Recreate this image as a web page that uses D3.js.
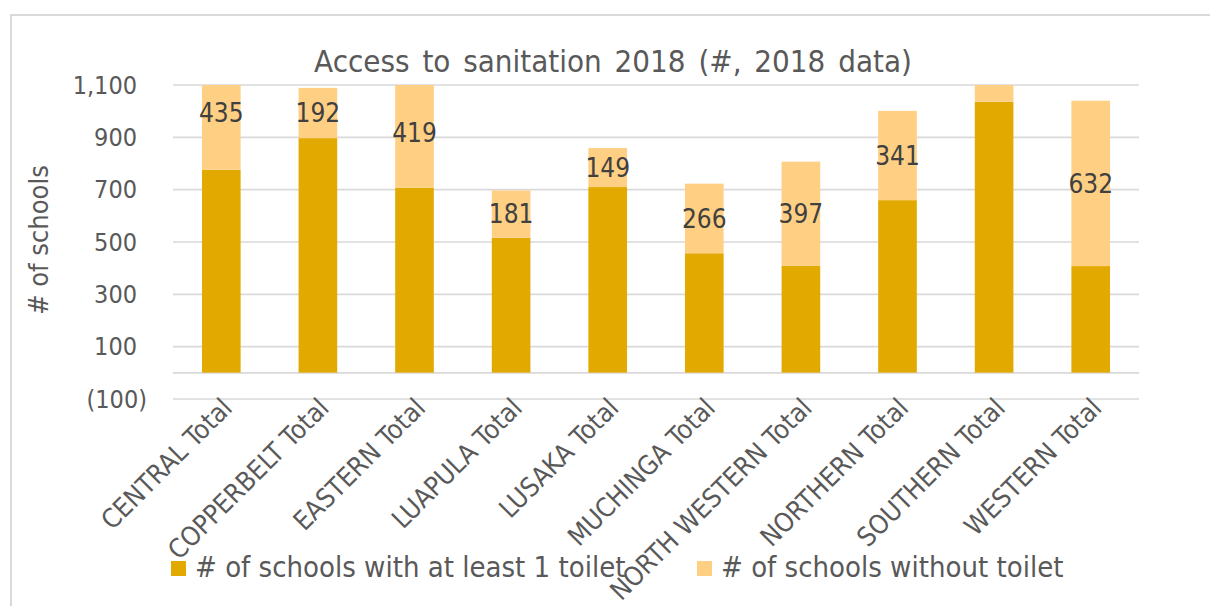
<!DOCTYPE html>
<html>
<head>
<meta charset="utf-8">
<script src="https://cdn.jsdelivr.net/npm/d3@7/dist/d3.min.js"></script>
<style>
  html, body { margin: 0; padding: 0; background: #fff; }
  svg text { font-family: "DejaVu Sans Condensed", "DejaVu Sans", sans-serif; font-stretch: condensed; }
</style>
</head>
<body>
<svg id="chart" width="1210" height="606"></svg>
<script>
// Provinces (school totals per province)
const categories = ["CENTRAL Total", "COPPERBELT Total", "EASTERN Total", "LUAPULA Total", "LUSAKA Total",
  "MUCHINGA Total", "NORTH WESTERN Total", "NORTHERN Total", "SOUTHERN Total", "WESTERN Total"];
const withToilet = [776, 897, 708, 516, 710, 457, 410, 660, 1036, 408];
const withoutToilet = [435, 192, 419, 181, 149, 266, 397, 341, 140, 632];
const seriesNames = ["# of schools with at least 1 toilet", "# of schools without toilet"];
const yTicks = [-100, 100, 300, 500, 700, 900, 1100];
const chartTitle = "Access to sanitation 2018 (#, 2018 data)";
const yTitle = "# of schools";

const colors = ["#E2AA00", "#FFD084"];
const gridColor = "#d9d9d9";
const textColor = "#595959";

const svg = d3.select("#chart");
const W = 1210, H = 606;
const plot = { left: 173, right: 1139, top: 85, bottom: 399 };

// Chart frame
svg.append("path")
  .attr("d", `M11,${H} L11,15 L${W},15`)
  .attr("fill", "none").attr("stroke", gridColor).attr("stroke-width", 2);

const x = d3.scaleBand().domain(categories).range([plot.left, plot.right]).paddingInner(0.6).paddingOuter(0.3);
const y = d3.scaleLinear().domain([-100, 1100]).range([plot.bottom, plot.top]);

// Gridlines and zero axis line
svg.append("g").selectAll("line")
  .data(yTicks.concat([0]))
  .join("line")
  .attr("x1", plot.left).attr("x2", plot.right)
  .attr("y1", d => y(d)).attr("y2", d => y(d))
  .attr("stroke", gridColor).attr("stroke-width", 1.6);

// Y axis labels (accounting format: negatives in parentheses)
const fmt = d3.format(",");
const yAxis = d3.axisLeft(y).tickValues(yTicks).tickSize(0).tickPadding(0)
  .tickFormat(d => d < 0 ? `(${fmt(-d)})` : fmt(d));
const gy = svg.append("g").attr("transform", `translate(147,0)`).call(yAxis);
gy.select(".domain").remove();
gy.selectAll("text")
  .attr("fill", textColor).attr("font-size", 25)
  .attr("dx", d => d < 0 ? 0 : -10)
  .style("font-family", null);

// Stacked bars
const stack = categories.map((c, i) => {
  const a = withToilet[i], b = withoutToilet[i];
  return [
    { cat: c, s: 0, y0: 0, y1: a, v: a },
    { cat: c, s: 1, y0: a, y1: a + b, v: b }
  ];
});

const clip = svg.append("defs").append("clipPath").attr("id", "plotClip");
clip.append("rect").attr("x", plot.left).attr("y", y(1100)).attr("width", plot.right - plot.left).attr("height", y(0) - y(1100));

const gBars = svg.append("g").attr("clip-path", "url(#plotClip)");
gBars.selectAll("rect")
  .data(stack.flat())
  .join("rect")
  .attr("x", d => x(d.cat))
  .attr("width", x.bandwidth())
  .attr("y", d => y(d.y1))
  .attr("height", d => y(d.y0) - y(d.y1))
  .attr("fill", d => colors[d.s]);

// Value labels on the "without toilet" segment, centred on the full segment
svg.append("g").selectAll("text")
  .data(stack.map(s => s[1]).filter(d => (d.y0 + d.y1) / 2 <= 1100))
  .join("text")
  .attr("x", d => x(d.cat) + x.bandwidth() / 2)
  .attr("y", d => y((d.y0 + d.y1) / 2))
  .attr("dy", "0.36em")
  .attr("text-anchor", "middle")
  .attr("font-size", 26)
  .attr("fill", "#404040")
  .text(d => d.v);

// Rotated category labels
svg.append("g").selectAll("text")
  .data(categories)
  .join("text")
  .attr("transform", d => `translate(${x(d) + x.bandwidth() / 2 - 1},${plot.bottom - 3}) rotate(-45)`)
  .attr("dy", "0.72em")
  .attr("text-anchor", "end")
  .attr("font-size", 26.5)
  .attr("fill", textColor)
  .text(d => d);

// Title
svg.append("text")
  .attr("x", 613).attr("y", 72)
  .attr("text-anchor", "middle")
  .attr("font-size", 31)
  .attr("word-spacing", 4)
  .attr("fill", textColor)
  .text(chartTitle);

// Y axis title
svg.append("text")
  .attr("transform", `translate(48,${(plot.top + plot.bottom) / 2 - 2}) rotate(-90)`)
  .attr("text-anchor", "middle")
  .attr("font-size", 27)
  .attr("fill", textColor)
  .text(yTitle);

// Legend
const legendX = [171, 697];
const legend = svg.append("g").selectAll("g")
  .data(seriesNames)
  .join("g")
  .attr("transform", (d, i) => `translate(${legendX[i]},561)`);
legend.append("rect").attr("width", 15).attr("height", 15).attr("fill", (d, i) => colors[i]);
legend.append("text")
  .attr("x", 24).attr("y", 16)
  .attr("font-size", 29)
  .attr("fill", textColor)
  .text(d => d);
</script>
</body>
</html>
